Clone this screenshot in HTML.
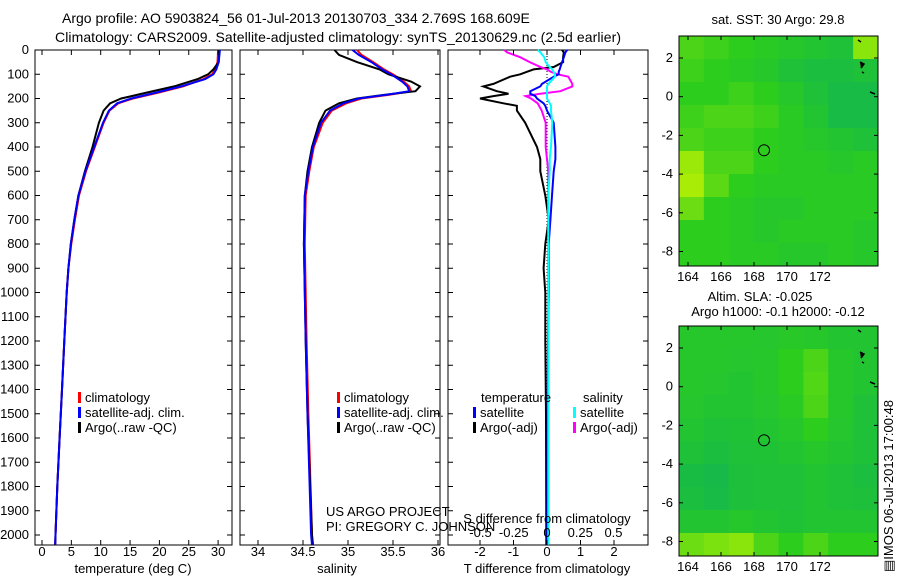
<!DOCTYPE html>
<html><head><meta charset="utf-8">
<style>
body{margin:0;background:#fff;}
svg{display:block;font-family:"Liberation Sans",sans-serif;font-size:13px;}
</style></head>
<body>
<svg id="c" width="900" height="580" viewBox="0 0 900 580">
<text x="62" y="23" style="font-size:14px">Argo profile: AO 5903824_56 01-Jul-2013 20130703_334 2.769S 168.609E</text>
<text x="55" y="42" style="font-size:14px" textLength="566">Climatology: CARS2009. Satellite-adjusted climatology: synTS_20130629.nc (2.5d earlier)</text>
</svg>
<script>
// ---- data ----
const tDepth=[0,50,80,100,120,150,175,200,220,250,300,400,500,600,700,800,900,1000,1200,1400,1600,1800,2000,2040];
const tClim=[30,29.9,29.5,29,27.5,24,20,15.5,13,11.5,10.5,9,7.5,6.3,5.6,5,4.5,4.2,3.8,3.4,3,2.6,2.3,2.25];
const tSat=[30.3,30.1,29.7,29.2,27.8,23.7,19.6,15.2,12.8,11.4,10.4,8.9,7.4,6.2,5.5,4.9,4.5,4.2,3.8,3.4,3,2.6,2.3,2.25];
const tArgo=[30.2,30.1,29.2,28.3,26.5,22.5,18,13.5,11.6,10.5,9.7,8.6,7.3,6.2,5.5,4.9,4.5,4.2,3.8,3.4,3,2.6,2.3,2.25];
const sDepth=[0,20,50,80,100,130,150,170,185,200,220,250,300,400,500,600,800,1000,1200,1500,2000,2040];
const sClim=[35.1,35.15,35.28,35.4,35.5,35.62,35.68,35.7,35.45,35.15,34.98,34.82,34.72,34.62,34.57,34.53,34.52,34.53,34.54,34.56,34.6,34.61];
const sSat=[35.05,35.12,35.26,35.38,35.48,35.6,35.66,35.68,35.42,35.12,34.95,34.8,34.7,34.61,34.56,34.52,34.51,34.52,34.53,34.55,34.59,34.6];
const sArgo=[34.85,34.9,35.1,35.35,35.45,35.7,35.8,35.75,35.4,35.1,34.9,34.75,34.68,34.6,34.55,34.52,34.51,34.52,34.53,34.55,34.6,34.61];
const dDepth=[0,10,30,50,70,80,90,100,110,140,150,170,180,190,200,220,230,250,300,400,450,500,600,700,800,900,1000,1200,1500,2000,2040];
const dTArgo=[0.45,0.5,0.48,0.48,0.2,-0.4,-0.6,-0.8,-1.1,-1.6,-1.9,-1.5,-1.15,-1.6,-2.0,-1.3,-0.9,-0.9,-0.65,-0.3,-0.2,-0.2,-0.05,0.05,-0.05,-0.1,-0.05,-0.05,-0.03,-0.02,-0.02];
const dTSat=[0.6,0.55,0.5,0.45,0.4,0.38,0.35,0.35,0.2,-0.15,-0.2,-0.5,-0.5,-0.35,-0.3,-0.1,-0.05,0,0.2,0.25,0.25,0.2,0.15,0.1,0.05,0.05,0.05,0.03,0.02,0.01,0.01];
const dSArgo=[-0.32,-0.3,-0.2,-0.13,-0.05,0,0.03,0.08,0.16,0.19,0.19,0.1,-0.05,-0.16,-0.12,-0.07,-0.06,-0.04,-0.01,-0.01,0,0.01,0.01,0.01,0.01,0.01,0.01,0.01,0.01,0.01,0.01];
const dSSat=[-0.07,-0.05,-0.02,-0.01,0.02,0.04,0.05,0.06,0.06,0.01,0,0,0,0,0,0.02,0.03,0.03,0.04,0.03,0.02,0.02,0.01,0.01,0.01,0.01,0.01,0.01,0.01,0.01,0.01];
const depthTicks=[0,100,200,300,400,500,600,700,800,900,1000,1100,1200,1300,1400,1500,1600,1700,1800,1900,2000];
const tTicks=[0,5,10,15,20,25,30];
const sTicks=[34,34.5,35,35.5,36];
const dtTicks=[-2,-1,0,1,2];
const dsTicks=[-0.5,-0.25,0,0.25,0.5];
const lonTicks=[164,166,168,170,172];
const latTicks=[2,0,-2,-4,-6,-8];
const argoLon=168.609, argoLat=-2.769;
const sstGrid=[[.6,.55,.5,.45,.4,.35,.3,.8],[.55,.5,.45,.4,.3,.25,.25,.3],[.5,.5,.55,.5,.4,.3,.2,.2],[.55,.6,.6,.55,.45,.35,.2,.2],[.6,.55,.55,.5,.45,.4,.35,.3],[.85,.6,.6,.5,.45,.45,.4,.45],[.9,.65,.5,.45,.45,.45,.45,.45],[.7,.5,.45,.4,.4,.45,.45,.45],[.5,.5,.45,.4,.45,.45,.45,.4],[.5,.5,.45,.45,.4,.4,.45,.4]];
const slaGrid=[[.4,.4,.4,.38,.42,.4,.35,.35],[.4,.4,.38,.4,.5,.6,.4,.35],[.4,.38,.35,.4,.5,.62,.4,.35],[.38,.35,.35,.38,.45,.6,.4,.3],[.35,.3,.32,.35,.4,.5,.38,.3],[.3,.25,.3,.32,.35,.4,.35,.3],[.22,.18,.28,.3,.3,.35,.3,.25],[.25,.2,.28,.3,.3,.35,.3,.28],[.35,.35,.4,.35,.32,.35,.35,.35],[.7,.75,.8,.6,.5,.6,.5,.5]];

const svg=document.getElementById('c');
const NS='http://www.w3.org/2000/svg';
function el(tag,attrs,parent){const e=document.createElementNS(NS,tag);for(const k in attrs)e.setAttribute(k,attrs[k]);(parent||svg).appendChild(e);return e;}
function txt(x,y,s,anchor,parent){const e=el('text',{x:x,y:y,'text-anchor':anchor||'start'},parent);e.textContent=s;return e;}
const yD=d=>50+d*0.2425;
const PB=545;

function panel(x0,x1,name){
  const g=el('g',{});
  
  
  el('rect',{x:x0,y:50,width:x1-x0,height:PB-50,fill:'none',stroke:'#000','stroke-width':1},g);
  depthTicks.forEach(d=>{el('line',{x1:x0,x2:x0+5,y1:yD(d),y2:yD(d),stroke:'#000'},g);el('line',{x1:x1,x2:x1-5,y1:yD(d),y2:yD(d),stroke:'#000'},g);});
  return g;
}
function line(g,xs,ds,xf,color,w,name){
  const p=xs.map((v,i)=>xf(v).toFixed(1)+','+yD(ds[i]).toFixed(1)).join(' ');
  const e=el('polyline',{points:p,fill:'none',stroke:color,'stroke-width':w||2},g);
  
  
}
function xticks(g,ticks,xf,y,lbl){
  ticks.forEach(t=>{const x=xf(t);el('line',{x1:x,x2:x,y1:PB,y2:PB-5,stroke:'#000'},g);el('line',{x1:x,x2:x,y1:50,y2:55,stroke:'#000'},g);if(lbl)txt(x,y,String(t),'middle',g);});
}
function legend(g,x,y,items){
  items.forEach((it,i)=>{el('rect',{x:x,y:y+i*15-10,width:3,height:11,fill:it[1]},g);txt(x+7,y+i*15,it[0],'start',g);});
}
const dl=el('g',{});


depthTicks.forEach(d=>txt(29,yD(d)+4,String(d),'end',dl));

const xT=v=>42+v*5.87;
const p1=panel(35,232,'temperature-panel');
line(p1,tClim,tDepth,xT,'#f00',2,'temp-climatology-line');
line(p1,tArgo,tDepth,xT,'#000',2,'temp-argo-line');
line(p1,tSat,tDepth,xT,'#00f',2,'temp-satellite-line');
xticks(p1,tTicks,xT,556,true);
txt(133,573,'temperature (deg C)','middle',p1);
legend(p1,78,402,[['climatology','#f00'],['satellite-adj. clim.','#00f'],['Argo(..raw -QC)','#000']]);

const xS=v=>258+(v-34)*90;
const p2=panel(240,440,'salinity-panel');
line(p2,sClim,sDepth,xS,'#f00',2,'sal-climatology-line');
line(p2,sArgo,sDepth,xS,'#000',2,'sal-argo-line');
line(p2,sSat,sDepth,xS,'#00f',2,'sal-satellite-line');
xticks(p2,sTicks,xS,556,true);
txt(337,573,'salinity','middle',p2);
legend(p2,337,402,[['climatology','#f00'],['satellite-adj. clim.','#00f'],['Argo(..raw -QC)','#000']]);
txt(326,516,'US ARGO PROJECT','start',p2);
txt(326,531,'PI: GREGORY C. JOHNSON','start',p2);

const xDT=v=>547+v*33.5;
const xDS=v=>547+v*133;
const p3=panel(448,648,'difference-panel');
el('line',{x1:547,x2:547,y1:50,y2:PB,stroke:'#000','stroke-dasharray':'1,2'},p3);
line(p3,dTArgo,dDepth,xDT,'#000',2,'tdiff-argo-line');
line(p3,dSArgo,dDepth,xDS,'#f0f',2,'sdiff-argo-line');
line(p3,dTSat,dDepth,xDT,'#00f',2,'tdiff-satellite-line');
line(p3,dSSat,dDepth,xDS,'#0ff',2,'sdiff-satellite-line');
xticks(p3,dtTicks,xDT,556,true);
dsTicks.forEach(t=>txt(xDS(t),537,String(t),'middle',p3));
txt(547,523,'S difference from climatology','middle',p3);
txt(547,573,'T difference from climatology','middle',p3);
txt(481,402,'temperature','start',p3);
txt(583,402,'salinity','start',p3);
legend(p3,473,417,[['satellite','#00f'],['Argo(-adj)','#000']]);
legend(p3,573,417,[['satellite','#0ff'],['Argo(-adj)','#f0f']]);

function color(v){
  let a,b,t;
  if(v<0.5){a=[10,175,95];b=[45,205,30];t=v/0.5;}else{a=[45,205,30];b=[200,245,0];t=(v-0.5)/0.5;}
  return 'rgb('+a.map((c,i)=>Math.round(c+(b[i]-c)*t)).join(',')+')';
}
function map(y0,y1,grid,name){
  const g=el('g',{});
  
  
  const x0=679,x1=878;
  const lonX=l=>688+(l-164)*16.5;
  const latY=l=>y0+22+(2-l)*19.35;
  const rows=grid.length,cols=grid[0].length,cw=(x1-x0)/cols,ch=(y1-y0)/rows;
  grid.forEach((r,i)=>r.forEach((v,j)=>{el('rect',{x:x0+j*cw,y:y0+i*ch,width:cw+0.5,height:ch+0.5,fill:color(v)},g);}));
  el('rect',{x:x0,y:y0,width:x1-x0,height:y1-y0,fill:'none',stroke:'#000'},g);
  lonTicks.forEach(l=>{const x=lonX(l);el('line',{x1:x,x2:x,y1:y1,y2:y1-4,stroke:'#000'},g);el('line',{x1:x,x2:x,y1:y0,y2:y0+4,stroke:'#000'},g);txt(x,y1+15,String(l),'middle',g);});
  latTicks.forEach(l=>{const y=latY(l);el('line',{x1:x0,x2:x0+4,y1:y,y2:y,stroke:'#000'},g);el('line',{x1:x1,x2:x1-4,y1:y,y2:y,stroke:'#000'},g);txt(673,y+4,String(l),'end',g);});
  const c=el('circle',{cx:lonX(argoLon),cy:latY(argoLat),r:5.5,fill:'none',stroke:'#000'},g);
  
  
  el('path',{d:'M858 40 l3 2 M860 62 l4 2 l-3 4 M862 72 l2 1 M870 92 l5 2',stroke:'#000','stroke-width':1.5,transform:'translate(0,'+(y0-36)+')'},g);
  return g;
}
const m1=map(36,266,sstGrid,'sst-map');
txt(778,24,'sat. SST: 30 Argo: 29.8','middle',m1);
const m2=map(326,556,slaGrid,'sla-map');
txt(760,301,'Altim. SLA: -0.025','middle',m2);
txt(778,316,'Argo h1000: -0.1 h2000: -0.12','middle',m2);
const ts=txt(0,0,'\u25a4IMOS 06-Jul-2013 17:00:48','start');
ts.setAttribute('transform','translate(893,572) rotate(-90)');


</script>
</body></html>
